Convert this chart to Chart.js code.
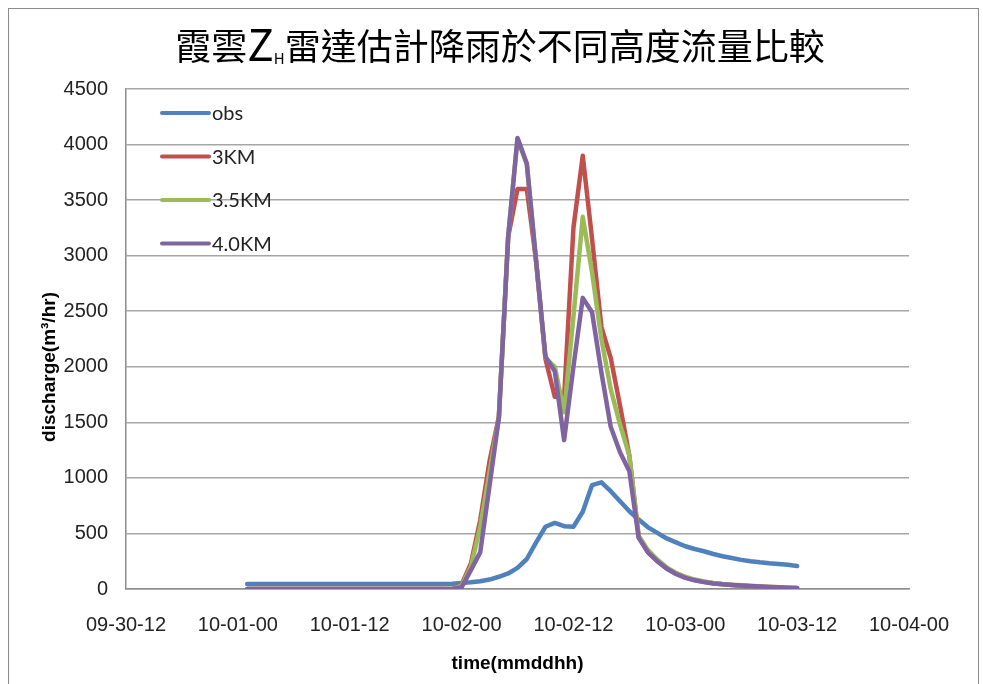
<!DOCTYPE html>
<html>
<head>
<meta charset="utf-8">
<script src="https://cdn.jsdelivr.net/npm/chart.js@4.4.1/dist/chart.umd.min.js"></script>
<style>
  html, body { margin: 0; padding: 0; background: #fff; }
  #wrap { position: relative; width: 983px; height: 684px; overflow: hidden; }
  #frame { position: absolute; left: 8px; top: 8px; width: 971px; height: 700px;
           border: 1.5px solid #8c8c8c; box-sizing: border-box; pointer-events: none; }
</style>
</head>
<body>
<div id="wrap">
  <canvas id="c" width="983" height="684"></canvas>
  <div id="frame"></div>
</div>
<script>
// Time axis: hours after 09-30-12, labelled every 12 hours
const tickLabels = ['09-30-12', '10-01-00', '10-01-12', '10-02-00', '10-02-12', '10-03-00', '10-03-12', '10-04-00'];
const firstHour = 13; // first hourly sample: 10-01-01

const seriesNames = ['obs', '3KM', '3.5KM', '4.0KM'];
const seriesColors = ['#4F81BD', '#C0504D', '#9BBB59', '#8064A2'];

// Hourly discharge (m3/hr), 10-01-01 .. 10-03-12
const obs = [
  45, 45, 45, 45, 45, 45, 45, 45, 45, 45, 45, 45, 45, 45, 45, 45, 45, 45, 45, 45, 45, 45,
  48, 55, 60, 70, 85, 110, 140, 190, 270, 420,
  560, 595, 565, 560, 695, 935, 960, 880, 790, 700,
  625, 555, 505, 455, 420, 385, 360, 340, 315, 295,
  279, 262, 250, 240, 232, 226, 218, 207
];
const km30 = [
  0, 0, 0, 0, 0, 0, 0, 0, 0, 0, 0, 0, 0, 0, 0, 0, 0, 0, 0, 0, 0, 0, 0,
  40, 230, 620, 1150, 1550, 3170, 3600, 3600, 2950, 2070,
  1730, 1720, 3250, 3900, 3150, 2360, 2080, 1650, 1200, 470,
  330, 250, 185, 140, 105, 80, 65, 52, 42, 36,
  30, 24, 18, 14, 10, 8, 6
];
const km35 = [
  0, 0, 0, 0, 0, 0, 0, 0, 0, 0, 0, 0, 0, 0, 0, 0, 0, 0, 0, 0, 0, 0, 0,
  30, 200, 560, 1050, 1540, 3170, 4050, 3820, 2950, 2080,
  2000, 1590, 2450, 3350, 2850, 2250, 1800, 1480, 1200, 480,
  350, 265, 195, 145, 110, 85, 68, 55, 45, 38,
  33, 28, 24, 20, 16, 12, 9
];
const km40 = [
  0, 0, 0, 0, 0, 0, 0, 0, 0, 0, 0, 0, 0, 0, 0, 0, 0, 0, 0, 0, 0, 0, 0,
  15, 170, 330, 930, 1540, 3170, 4060, 3830, 2950, 2090,
  1960, 1340, 2000, 2620, 2490, 1950, 1460, 1230, 1060, 460,
  330, 250, 185, 135, 100, 78, 62, 50, 42, 36,
  31, 27, 23, 19, 15, 12, 9
];

const allSeries = [obs, km30, km35, km40];
const toPoints = arr => arr.map((v, i) => ({ x: firstHour + i, y: v }));

// Title, axis titles and the in-plot legend
const decorations = {
  id: 'decorations',
  afterDraw(chart) {
    const ctx = chart.ctx;
    const area = chart.chartArea;
    ctx.save();

    // Title: 霞雲 Z(sub H) 雷達估計降雨於不同高度流量比較
    const cjk = '"Noto Sans CJK TC", "Noto Sans CJK SC", sans-serif';
    const parts = [
      { t: '霞雲', font: '36px ' + cjk, dy: 0 },
      { t: 'Z', font: '44px ' + cjk, dy: 1 },
      { t: 'H', font: '15px ' + cjk, dy: 4 },
      { t: '雷達估計降雨於不同高度流量比較', font: '36px ' + cjk, dy: 0 }
    ];
    ctx.fillStyle = '#000';
    ctx.textBaseline = 'alphabetic';
    ctx.textAlign = 'left';
    let total = 0;
    parts.forEach(p => { ctx.font = p.font; p.w = ctx.measureText(p.t).width; total += p.w; });
    let x = 500 - total / 2;
    const base = 60;
    parts.forEach(p => { ctx.font = p.font; ctx.fillText(p.t, x, base + p.dy); x += p.w; });

    // Axis titles
    ctx.font = 'bold 19px "Liberation Sans", Arial, sans-serif';
    ctx.textAlign = 'center';
    ctx.textBaseline = 'middle';
    ctx.fillText('time(mmddhh)', (area.left + area.right) / 2, 664);
    ctx.save();
    ctx.translate(50, 367);
    ctx.rotate(-Math.PI / 2);
    ctx.fillText('discharge(m\u00B3/hr)', 0, 0);
    ctx.restore();

    // Legend
    ctx.font = '20px Lato, "Open Sans", sans-serif';
    ctx.textAlign = 'left';
    ctx.textBaseline = 'middle';
    chart.data.datasets.forEach((ds, i) => {
      const y = area.top + 24 + i * 43.5;
      const x0 = area.left + 36;
      ctx.strokeStyle = ds.borderColor;
      ctx.lineWidth = 4;
      ctx.lineCap = 'round';
      ctx.beginPath();
      ctx.moveTo(x0, y);
      ctx.lineTo(x0 + 47, y);
      ctx.stroke();
      ctx.fillStyle = '#222';
      ctx.fillText(ds.label, x0 + 50, y + 1);
    });
    ctx.restore();
  }
};

const tickFont = { family: '"Liberation Sans", Arial, sans-serif', size: 20 };

new Chart(document.getElementById('c'), {
  type: 'line',
  data: {
    datasets: allSeries.map((arr, i) => ({
      label: seriesNames[i],
      data: toPoints(arr),
      borderColor: seriesColors[i],
      backgroundColor: seriesColors[i],
      borderWidth: 4.5,
      pointRadius: 0,
      tension: 0,
      borderJoinStyle: 'round',
      borderCapStyle: 'round',
      fill: false,
      order: allSeries.length - 1 - i
    }))
  },
  options: {
    responsive: false,
    animation: false,
    devicePixelRatio: 1,
    layout: { padding: { top: 89, right: 74, bottom: 0, left: 0 } },
    plugins: {
      legend: { display: false },
      title: { display: false },
      tooltip: { enabled: false }
    },
    scales: {
      x: {
        type: 'linear',
        min: 0,
        max: 84,
        afterFit(scale) { scale.height = 95; },
        afterBuildTicks(scale) {
          scale.ticks = tickLabels.map((_, i) => ({ value: i * 12 }));
        },
        ticks: {
          autoSkip: false,
          maxRotation: 0,
          padding: 24,
          color: '#222',
          font: tickFont,
          callback: v => tickLabels[Math.round(v / 12)]
        },
        grid: { display: false, drawTicks: false },
        border: { display: true, color: '#8c8c8c', width: 1.5 }
      },
      y: {
        min: 0,
        max: 4500,
        afterFit(scale) { scale.width = 126; },
        ticks: {
          stepSize: 500,
          padding: 18,
          color: '#222',
          font: tickFont,
          callback: v => String(v)
        },
        grid: { color: '#a6a6a6', lineWidth: 1.5, drawTicks: false },
        border: { display: true, color: '#8c8c8c', width: 1.5 }
      }
    }
  },
  plugins: [decorations]
});
</script>
</body>
</html>
